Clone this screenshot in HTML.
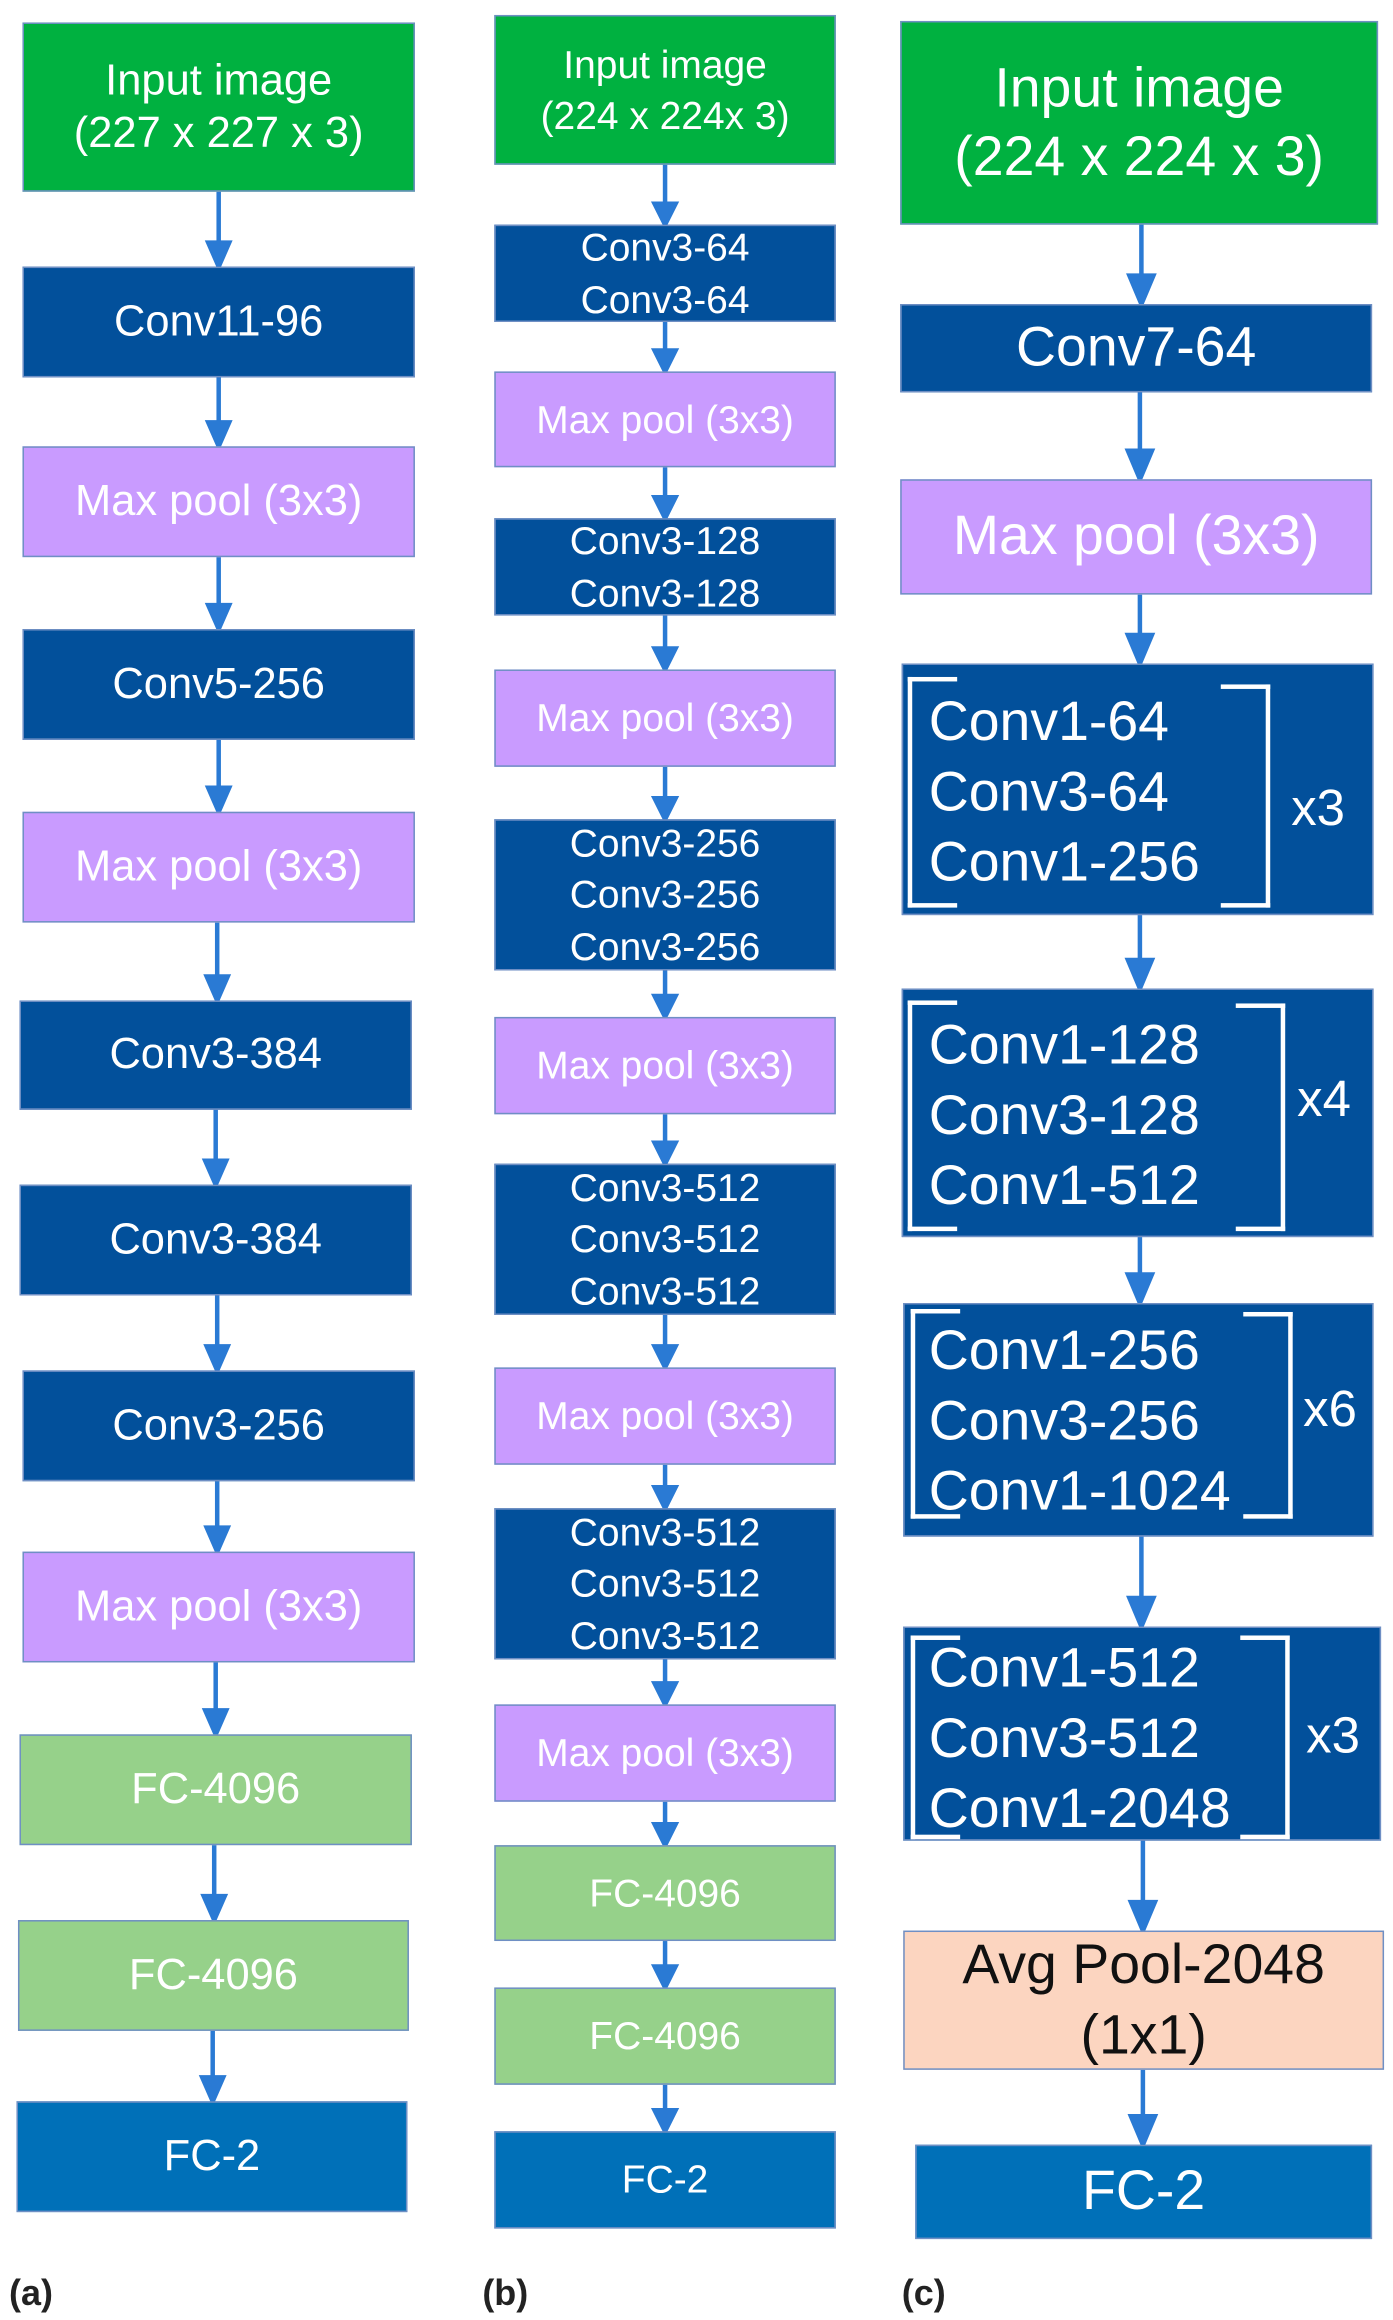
<!DOCTYPE html>
<html><head><meta charset="utf-8"><style>
html,body{margin:0;padding:0;background:#fff;width:1393px;height:2320px;overflow:hidden}
#w{position:absolute;left:0;top:0;width:930px;height:1549px;transform:scale(1.4979,1.4977);transform-origin:0 0;font-family:"Liberation Sans",Arial,sans-serif}
.b{position:absolute;box-sizing:border-box;display:flex;flex-direction:column;align-items:center;justify-content:center;color:#fff;text-align:center;border:1.5px solid #6f8fc4;line-height:1.2}
.g{background:#00b140}.d{background:#02509b}.p{background:#c99bff}.l{background:#96d18a}.f{background:#0070b8}.o{background:#fcd5c0;color:#111}
.a{font-size:29px}.bb{font-size:26px;line-height:1.32}.c{font-size:37px}
.lab{position:absolute;font-size:24px;color:#222;font-weight:bold}
.t{position:absolute;color:#fff;font-size:37px;line-height:47px;text-align:left}
.br{position:absolute;border:3px solid #fff}
.x{position:absolute;color:#fff;font-size:34px}
</style></head><body><div id="w">
<svg width="930" height="1549" style="position:absolute;left:0;top:0">
<g stroke="#2a7ad4" stroke-width="3" fill="#2a7ad4">
<line x1="146" y1="128" x2="146" y2="168"/><polygon points="139,162 153,162 146,178"/>
<line x1="146" y1="252" x2="146" y2="288"/><polygon points="139,282 153,282 146,298"/>
<line x1="146" y1="372" x2="146" y2="410"/><polygon points="139,404 153,404 146,420"/>
<line x1="146" y1="494" x2="146" y2="532"/><polygon points="139,526 153,526 146,542"/>
<line x1="145" y1="616" x2="145" y2="658"/><polygon points="138,652 152,652 145,668"/>
<line x1="144" y1="741" x2="144" y2="781"/><polygon points="137,775 151,775 144,791"/>
<line x1="145" y1="865" x2="145" y2="905"/><polygon points="138,899 152,899 145,915"/>
<line x1="145" y1="989" x2="145" y2="1026"/><polygon points="138,1020 152,1020 145,1036"/>
<line x1="144" y1="1110" x2="144" y2="1148"/><polygon points="137,1142 151,1142 144,1158"/>
<line x1="143" y1="1232" x2="143" y2="1272"/><polygon points="136,1266 150,1266 143,1282"/>
<line x1="142" y1="1356" x2="142" y2="1393"/><polygon points="135,1387 149,1387 142,1403"/>
<line x1="444" y1="110" x2="444" y2="140"/><polygon points="437,136 451,136 444,150"/>
<line x1="444" y1="215" x2="444" y2="238"/><polygon points="437,234 451,234 444,248"/>
<line x1="444" y1="312" x2="444" y2="336"/><polygon points="437,332 451,332 444,346"/>
<line x1="444" y1="411" x2="444" y2="437"/><polygon points="437,433 451,433 444,447"/>
<line x1="444" y1="512" x2="444" y2="537"/><polygon points="437,533 451,533 444,547"/>
<line x1="444" y1="648" x2="444" y2="669"/><polygon points="437,665 451,665 444,679"/>
<line x1="444" y1="744" x2="444" y2="767"/><polygon points="437,763 451,763 444,777"/>
<line x1="444" y1="878" x2="444" y2="903"/><polygon points="437,899 451,899 444,913"/>
<line x1="444" y1="978" x2="444" y2="997"/><polygon points="437,993 451,993 444,1007"/>
<line x1="444" y1="1108" x2="444" y2="1128"/><polygon points="437,1124 451,1124 444,1138"/>
<line x1="444" y1="1203" x2="444" y2="1222"/><polygon points="437,1218 451,1218 444,1232"/>
<line x1="444" y1="1296" x2="444" y2="1317"/><polygon points="437,1313 451,1313 444,1327"/>
<line x1="444" y1="1392" x2="444" y2="1413"/><polygon points="437,1409 451,1409 444,1423"/>
<line x1="762" y1="150" x2="762" y2="190"/><polygon points="754,184 770,184 762,203"/>
<line x1="761" y1="262" x2="761" y2="307"/><polygon points="753,301 769,301 761,320"/>
<line x1="761" y1="397" x2="761" y2="430"/><polygon points="753,424 769,424 761,443"/>
<line x1="761" y1="611" x2="761" y2="647"/><polygon points="753,641 769,641 761,660"/>
<line x1="761" y1="826" x2="761" y2="857"/><polygon points="753,851 769,851 761,870"/>
<line x1="762" y1="1026" x2="762" y2="1073"/><polygon points="754,1067 770,1067 762,1086"/>
<line x1="763" y1="1229" x2="763" y2="1276"/><polygon points="755,1270 771,1270 763,1289"/>
<line x1="763" y1="1382" x2="763" y2="1419"/><polygon points="755,1413 771,1413 763,1432"/>
</g></svg>

<div class="b g a" style="left:15px;top:15px;width:262px;height:113px"><div>Input image</div><div>(227 x 227 x 3)</div></div>
<div class="b d a" style="left:15px;top:178px;width:262px;height:74px">Conv11-96</div>
<div class="b p a" style="left:15px;top:298px;width:262px;height:74px">Max pool (3x3)</div>
<div class="b d a" style="left:15px;top:420px;width:262px;height:74px">Conv5-256</div>
<div class="b p a" style="left:15px;top:542px;width:262px;height:74px">Max pool (3x3)</div>
<div class="b d a" style="left:13px;top:668px;width:262px;height:73px">Conv3-384</div>
<div class="b d a" style="left:13px;top:791px;width:262px;height:74px">Conv3-384</div>
<div class="b d a" style="left:15px;top:915px;width:262px;height:74px">Conv3-256</div>
<div class="b p a" style="left:15px;top:1036px;width:262px;height:74px">Max pool (3x3)</div>
<div class="b l a" style="left:13px;top:1158px;width:262px;height:74px">FC-4096</div>
<div class="b l a" style="left:12px;top:1282px;width:261px;height:74px">FC-4096</div>
<div class="b f a" style="left:11px;top:1403px;width:261px;height:74px">FC-2</div>

<div class="b g bb" style="left:330px;top:10px;width:228px;height:100px"><div>Input image</div><div>(224 x 224x 3)</div></div>
<div class="b d bb" style="left:330px;top:150px;width:228px;height:65px"><div>Conv3-64</div><div>Conv3-64</div></div>
<div class="b p bb" style="left:330px;top:248px;width:228px;height:64px">Max pool (3x3)</div>
<div class="b d bb" style="left:330px;top:346px;width:228px;height:65px"><div>Conv3-128</div><div>Conv3-128</div></div>
<div class="b p bb" style="left:330px;top:447px;width:228px;height:65px">Max pool (3x3)</div>
<div class="b d bb" style="left:330px;top:547px;width:228px;height:101px"><div>Conv3-256</div><div>Conv3-256</div><div>Conv3-256</div></div>
<div class="b p bb" style="left:330px;top:679px;width:228px;height:65px">Max pool (3x3)</div>
<div class="b d bb" style="left:330px;top:777px;width:228px;height:101px"><div>Conv3-512</div><div>Conv3-512</div><div>Conv3-512</div></div>
<div class="b p bb" style="left:330px;top:913px;width:228px;height:65px">Max pool (3x3)</div>
<div class="b d bb" style="left:330px;top:1007px;width:228px;height:101px"><div>Conv3-512</div><div>Conv3-512</div><div>Conv3-512</div></div>
<div class="b p bb" style="left:330px;top:1138px;width:228px;height:65px">Max pool (3x3)</div>
<div class="b l bb" style="left:330px;top:1232px;width:228px;height:64px">FC-4096</div>
<div class="b l bb" style="left:330px;top:1327px;width:228px;height:65px">FC-4096</div>
<div class="b f bb" style="left:330px;top:1423px;width:228px;height:65px">FC-2</div>

<div class="b g c" style="left:601px;top:14px;width:319px;height:136px;line-height:1.25"><div>Input image</div><div>(224 x 224 x 3)</div></div>
<div class="b d c" style="left:601px;top:203px;width:315px;height:59px">Conv7-64</div>
<div class="b p c" style="left:601px;top:320px;width:315px;height:77px">Max pool (3x3)</div>

<div class="b d" style="left:602px;top:443px;width:315px;height:168px"></div>
<div class="br" style="left:606px;top:452px;width:30px;height:148px;border-right:none"></div>
<div class="br" style="left:815px;top:457px;width:30px;height:143px;border-left:none"></div>
<div class="t" style="left:620px;top:458px">Conv1-64<br>Conv3-64<br>Conv1-256</div>
<div class="x" style="left:862px;top:521px">x3</div>

<div class="b d" style="left:602px;top:660px;width:315px;height:166px"></div>
<div class="br" style="left:606px;top:668px;width:30px;height:148px;border-right:none"></div>
<div class="br" style="left:825px;top:670px;width:30px;height:146px;border-left:none"></div>
<div class="t" style="left:620px;top:674px">Conv1-128<br>Conv3-128<br>Conv1-512</div>
<div class="x" style="left:866px;top:715px">x4</div>

<div class="b d" style="left:603px;top:870px;width:314px;height:156px"></div>
<div class="br" style="left:608px;top:874px;width:30px;height:134px;border-right:none"></div>
<div class="br" style="left:830px;top:876px;width:30px;height:132px;border-left:none"></div>
<div class="t" style="left:620px;top:878px">Conv1-256<br>Conv3-256<br>Conv1-1024</div>
<div class="x" style="left:870px;top:922px">x6</div>

<div class="b d" style="left:603px;top:1086px;width:319px;height:143px"></div>
<div class="br" style="left:608px;top:1092px;width:30px;height:130px;border-right:none"></div>
<div class="br" style="left:828px;top:1092px;width:30px;height:130px;border-left:none"></div>
<div class="t" style="left:620px;top:1090px">Conv1-512<br>Conv3-512<br>Conv1-2048</div>
<div class="x" style="left:872px;top:1140px">x3</div>

<div class="b o c" style="left:603px;top:1289px;width:321px;height:93px;line-height:1.25"><div>Avg Pool-2048</div><div>(1x1)</div></div>
<div class="b f c" style="left:611px;top:1432px;width:305px;height:63px">FC-2</div>

<div class="lab" style="left:6px;top:1518px">(a)</div>
<div class="lab" style="left:322px;top:1518px">(b)</div>
<div class="lab" style="left:602px;top:1518px">(c)</div>
</div></body></html>
